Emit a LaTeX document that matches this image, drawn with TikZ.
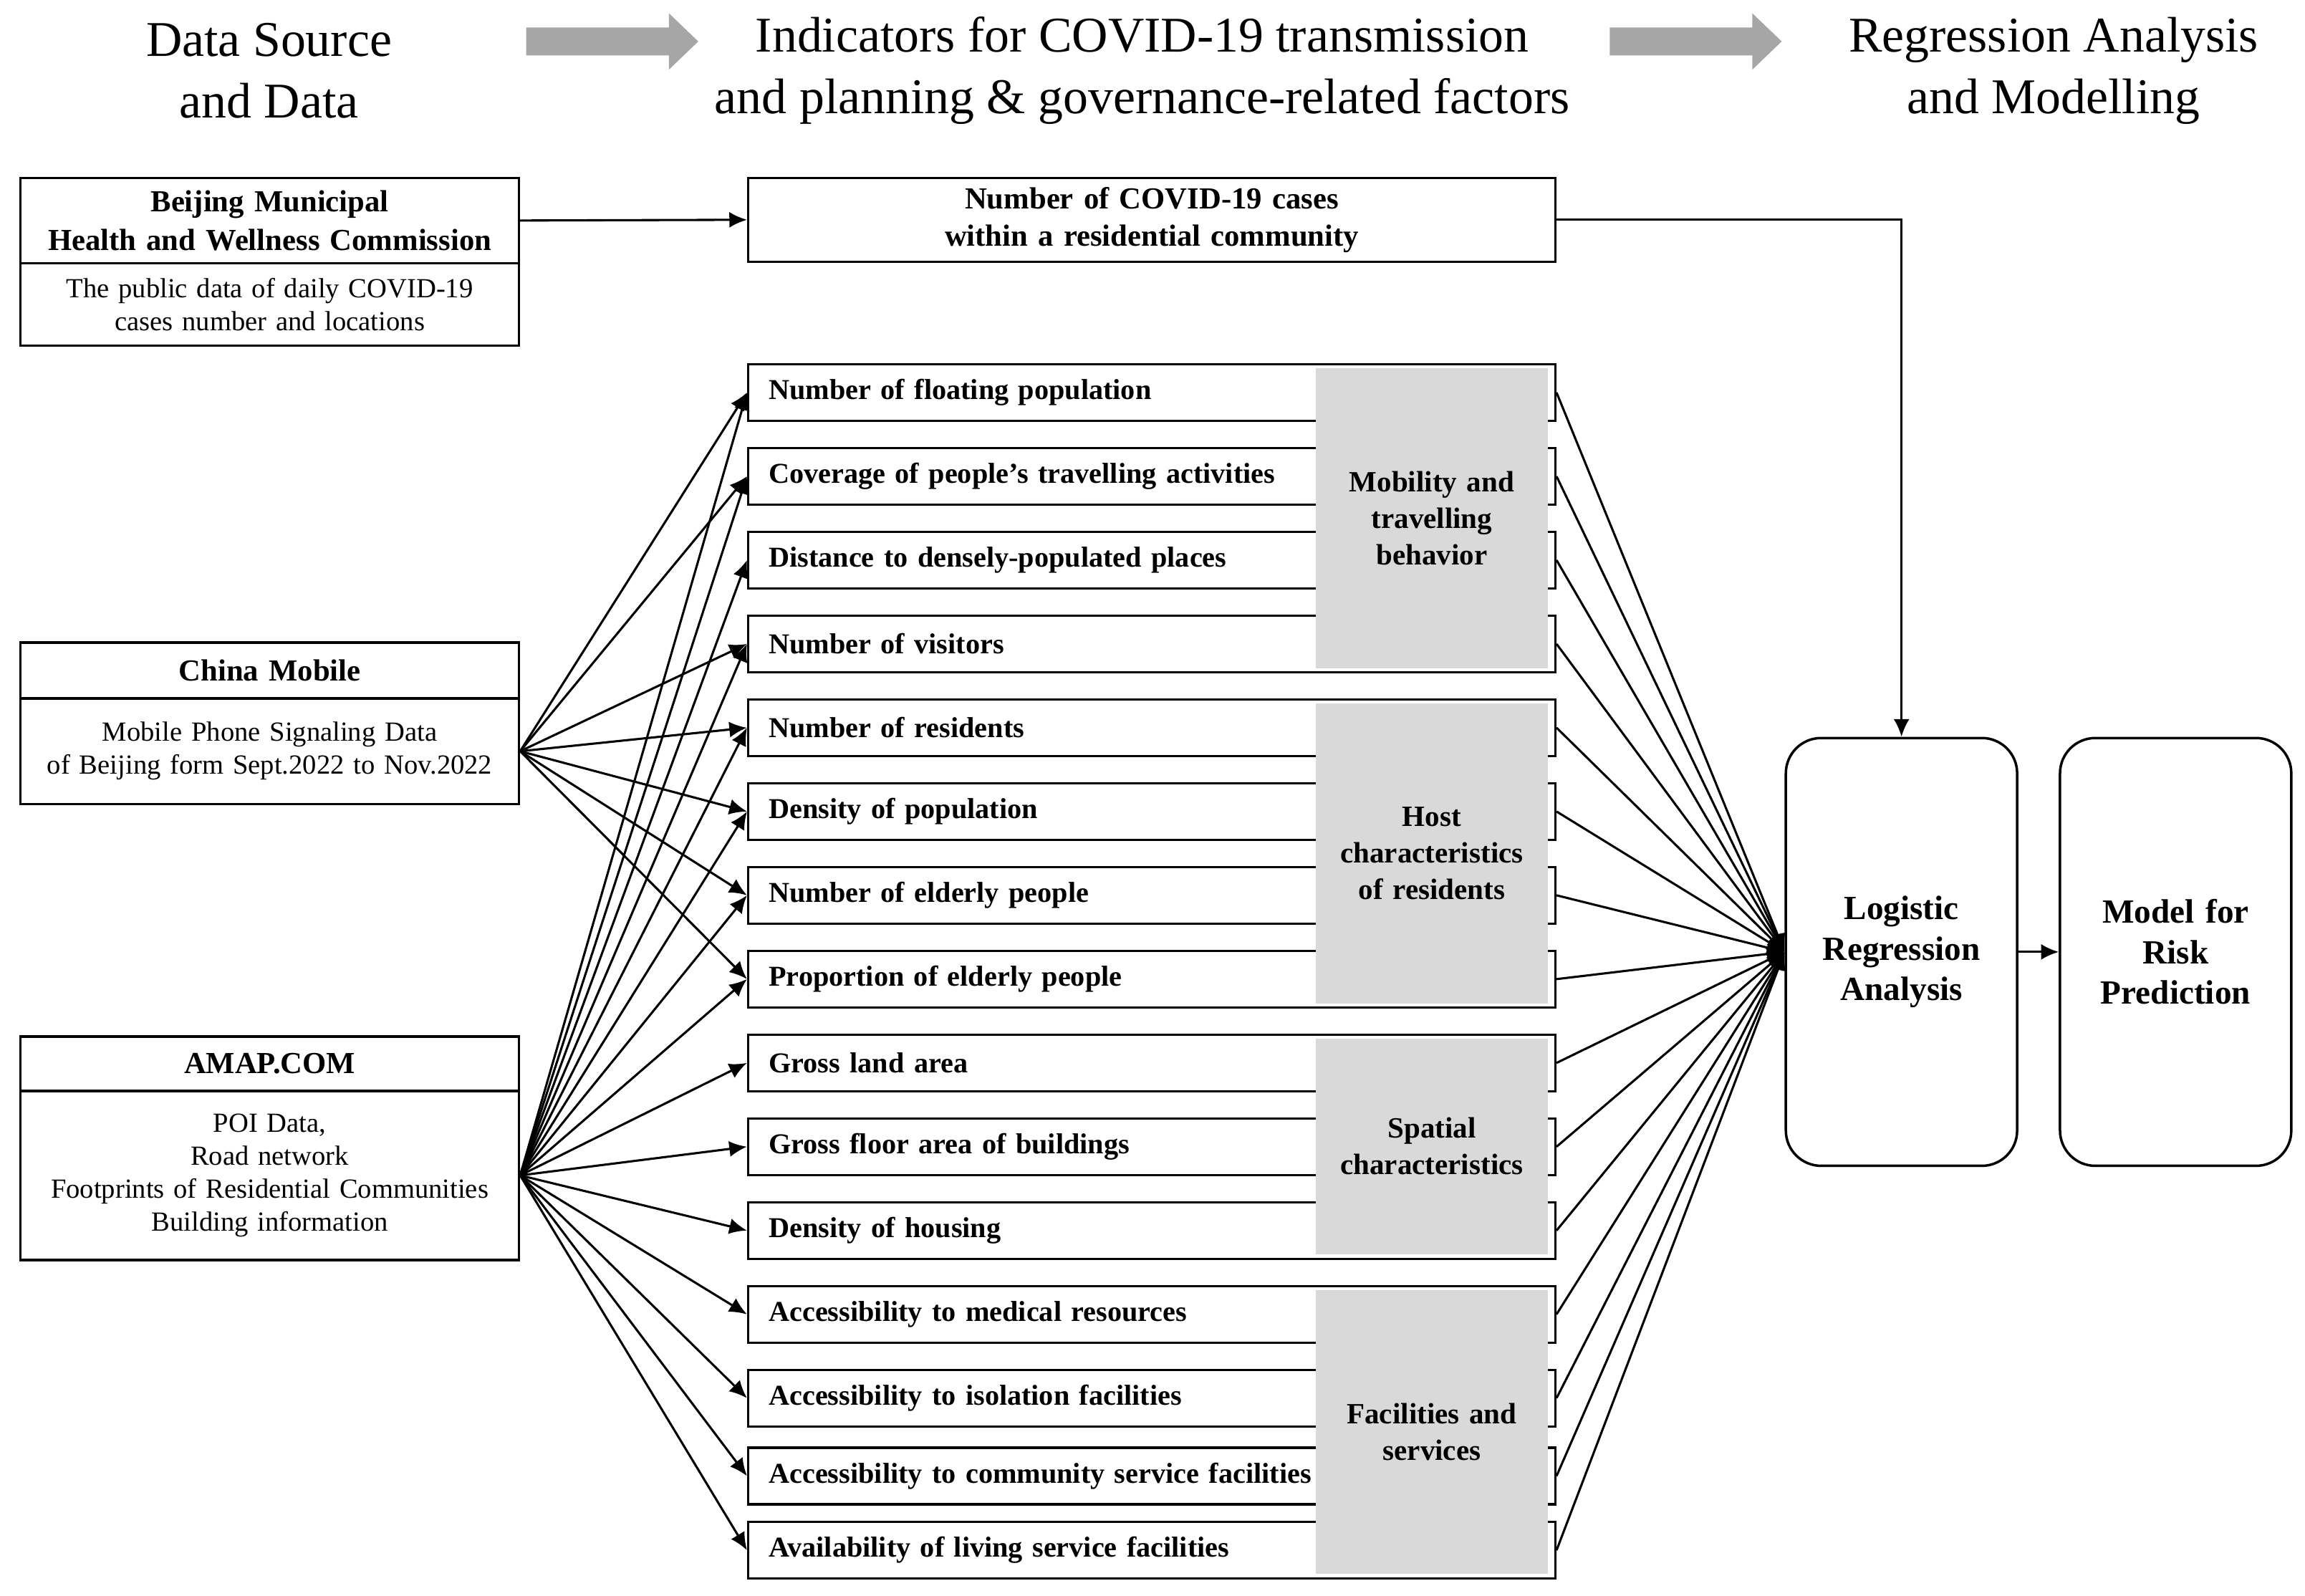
\documentclass[tikz,border=0pt]{standalone}
\usepackage{fontspec}
\setmainfont{Liberation Serif}
\usetikzlibrary{arrows.meta,calc}
\definecolor{grpgrey}{HTML}{D9D9D9}
\definecolor{hdrgrey}{HTML}{A6A6A6}
\begin{document}
\begin{tikzpicture}[x=0.5pt,y=-0.5pt,
  box/.style={draw,line width=0.85pt,inner sep=0pt},
  ind/.style={box,minimum width=274.5pt,minimum height=19.25pt,text width=260.5pt,align=left,inner xsep=7pt,font=\fontsize{9.8}{12}\selectfont\bfseries},
  srct/.style={box,minimum width=169.5pt,text width=165pt,align=center,font=\fontsize{10.4}{13}\selectfont\bfseries},
  srcb/.style={box,minimum width=169.5pt,text width=165pt,align=center,font=\fontsize{9.4}{11.2}\selectfont},
  grp/.style={fill=grpgrey,inner sep=0pt,minimum width=79pt,text width=75pt,align=center,font=\fontsize{10}{12.4}\selectfont\bfseries},
  rbox/.style={draw,line width=0.85pt,rounded corners=12pt,minimum width=76.5pt,minimum height=145.5pt,text width=72pt,align=center,font=\fontsize{11.5}{13.75}\selectfont\bfseries},
  hdr/.style={align=center,font=\fontsize{17}{21}\selectfont},
  arr/.style={line width=0.75pt,-{Latex[length=6pt,width=5.4pt]}},
  link/.style={line width=0.75pt,-{Latex[length=6pt,width=5.4pt]}},
  harrow/.style={fill=hdrgrey}
]
\useasboundingbox (0,0) rectangle (1568,1085.6);

% headers
\node[hdr] (h1) at (183,48) {Data Source\\and Data};
\node[hdr] (h2) at (777,48) {Indicators for COVID-19 transmission\\and planning \& governance-related factors};
\node[hdr] (h3) at (1397,48) {Regression Analysis\\and Modelling};
\fill[harrow] (358,18.7) -- (455,18.7) -- (455,9) -- (475,28.2) -- (455,47.4) -- (455,37.7) -- (358,37.7) -- cycle;
\fill[harrow] (1095,18.7) -- (1192,18.7) -- (1192,9) -- (1212,28.2) -- (1192,47.4) -- (1192,37.7) -- (1095,37.7) -- cycle;

% sources
\node[srct,minimum height=29pt] (bjt) at (183.5,150) {Beijing Municipal\\Health and Wellness Commission};
\node[srcb,minimum height=28pt] (bjb) at (183.5,207) {The public data of daily COVID-19\\cases number and locations};
\node[srct,minimum height=19pt] (cmt) at (183.5,456) {China Mobile};
\node[srcb,minimum height=36pt] (cmb) at (183.5,511) {Mobile Phone Signaling Data\\of Beijing form Sept.2022 to Nov.2022};
\node[srct,minimum height=18.5pt] (amt) at (183.5,723.5) {AMAP.COM};
\node[srcb,minimum height=57.5pt] (amb) at (183.5,799.5) {POI Data,\\Road network\\Footprints of Residential Communities\\Building information};

% cases box
\node[box,minimum width=274.5pt,minimum height=28.5pt,text width=270pt,align=center,font=\fontsize{10.4}{12.6}\selectfont\bfseries] (cases) at (783.5,149.5) {Number of COVID-19 cases\\within a residential community};

% indicators
\node[ind] (r1) at (783.5,267) {Number of floating population};
\node[ind] (r2) at (783.5,324) {Coverage of people’s travelling activities};
\node[ind] (r3) at (783.5,381) {Distance to densely-populated places};
\node[ind] (r4) at (783.5,438) {Number of visitors};
\node[ind] (r5) at (783.5,495) {Number of residents};
\node[ind] (r6) at (783.5,552) {Density of population};
\node[ind] (r7) at (783.5,609) {Number of elderly people};
\node[ind] (r8) at (783.5,666) {Proportion of elderly people};
\node[ind] (r9) at (783.5,723) {Gross land area};
\node[ind] (r10) at (783.5,780) {Gross floor area of buildings};
\node[ind] (r11) at (783.5,837) {Density of housing};
\node[ind] (r12) at (783.5,894) {Accessibility to medical resources};
\node[ind] (r13) at (783.5,951) {Accessibility to isolation facilities};
\node[ind] (r14) at (783.5,1004) {Accessibility to community service facilities};
\node[ind] (r15) at (783.5,1054.5) {Availability of living service facilities};

% groups
\node[grp,minimum height=102pt] (g1) at (974,352.5) {Mobility and\\travelling\\behavior};
\node[grp,minimum height=102pt] (g2) at (974,580.5) {Host\\characteristics\\of residents};
\node[grp,minimum height=73.25pt] (g3) at (974,779.75) {Spatial\\characteristics};
\node[grp,minimum height=96.5pt] (g4) at (974,974) {Facilities and\\services};

% analysis boxes
\node[rbox] (lr) at (1293.5,647.5) {Logistic\\Regression\\Analysis};
\node[rbox,minimum width=77pt] (mp) at (1480,647.5) {Model for\\Risk\\Prediction};

% connectors
\draw[arr] (bjt.east) -- (cases.west);
\draw[arr] (cases.east) -| (lr.north);
\foreach \i in {1,2,4,5,6,7,8} \draw[arr] (cmb.east) -- (r\i.west);
\foreach \i in {1,...,15} \draw[arr] (amb.east) -- (r\i.west);
\foreach \i in {1,...,15} \draw[link] (r\i.east) -- (lr.west);
\draw[arr] (lr.east) -- (mp.west);
\end{tikzpicture}
\end{document}
